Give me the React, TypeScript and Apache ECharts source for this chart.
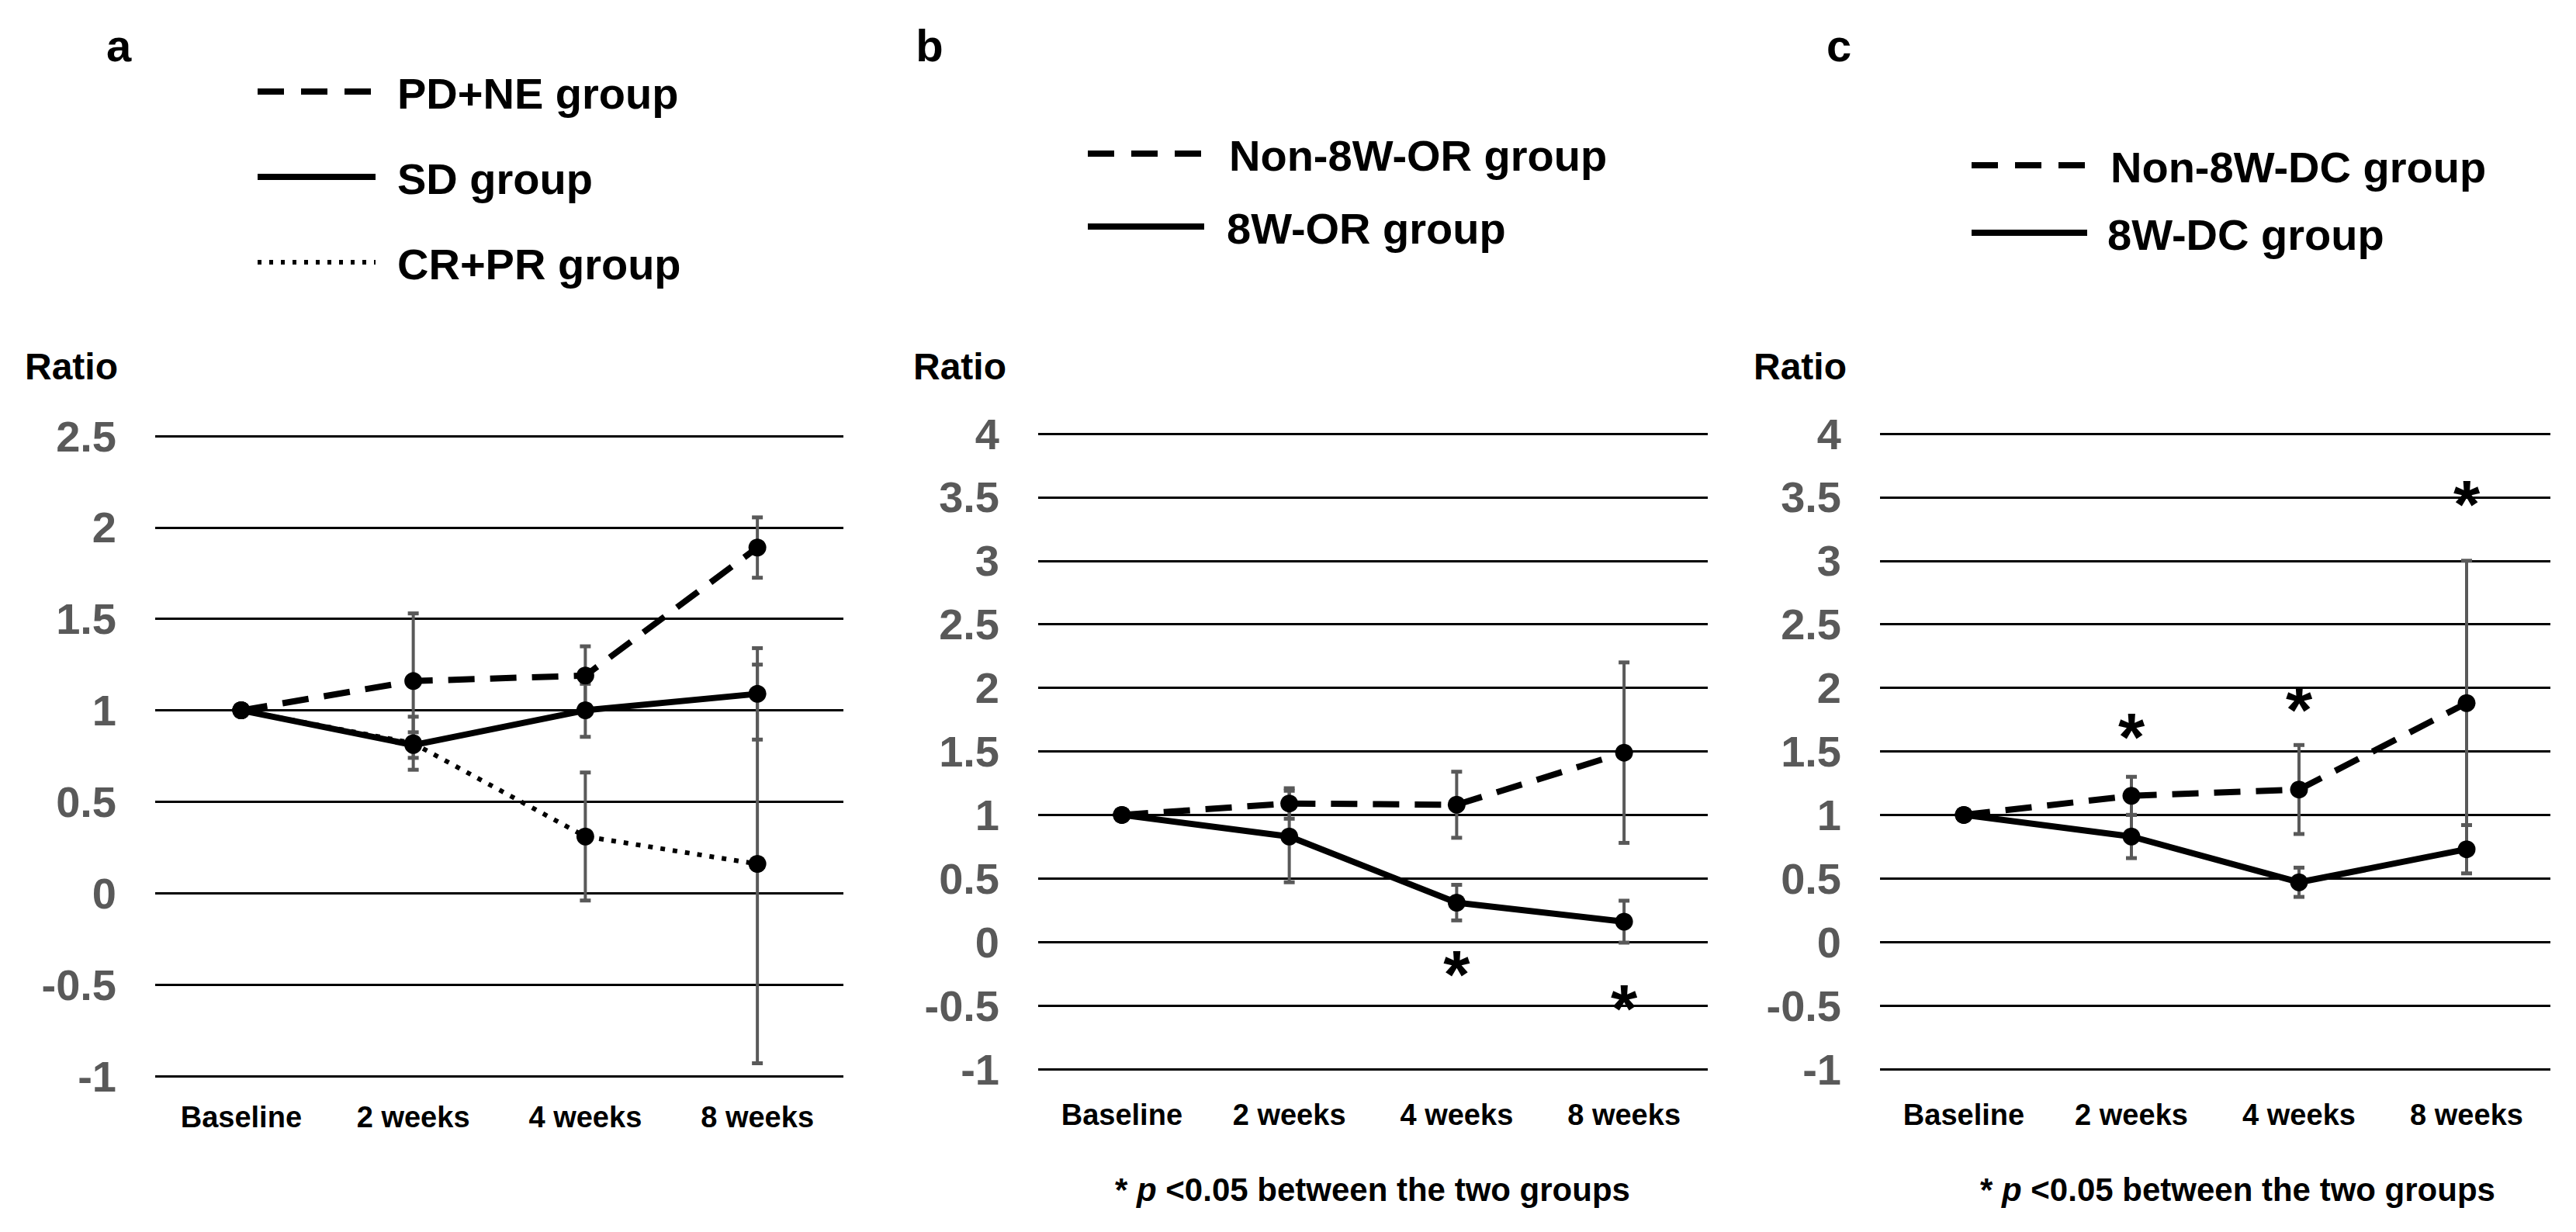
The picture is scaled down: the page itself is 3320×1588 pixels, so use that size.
import React, { useEffect, useRef } from "react";
import * as echarts from "echarts";

// ---------- data ----------
const categories = ["Baseline", "2 weeks", "4 weeks", "8 weeks"];

// y-axis ticks (min, max, step)
const yTicksA = [-1, 2.5, 0.5];
const yTicksBC = [-1, 4, 0.5];

// Panel a
const aPdNe = [1, 1.16, 1.19, 1.89];
const aPdNeErr = [0, 0.37, 0.16, 0.165];
const aSd = [1, 0.81, 1.0, 1.09];
const aSdErr = [0, 0.07, 0.145, 0.25];
const aCrPr = [1, 0.82, 0.31, 0.16];
const aCrPrErr = [0, 0.145, 0.35, 1.09];

// Panel b
const bNonOr = [1, 1.09, 1.08, 1.49];
const bNonOrErr = [0, 0.12, 0.26, 0.71];
const bOr = [1, 0.83, 0.31, 0.16];
const bOrErr = [0, 0.36, 0.14, 0.165];
const bStars: (number | null)[] = [null, null, -0.13, -0.4];

// Panel c
const cNonDc = [1, 1.15, 1.2, 1.88];
const cNonDcErr = [0, 0.15, 0.35, 1.12];
const cDc = [1, 0.83, 0.47, 0.73];
const cDcErr = [0, 0.17, 0.115, 0.19];
const cStars: (number | null)[] = [null, 1.74, 1.95, 3.57];

const panelLetters = ["a", "b", "c"];
const legendA = ["PD+NE group", "SD group", "CR+PR group"];
const legendB = ["Non-8W-OR group", "8W-OR group"];
const legendC = ["Non-8W-DC group", "8W-DC group"];
const yName = "Ratio";
const footnote = "{s|*} {i|p} <0.05 between the two groups";

// ---------- styles ----------
const FONT = "Arial, 'Liberation Sans', Helvetica, sans-serif";
const DASH = [34, 20];
const DOT = [6, 10];
const LEG_DASH = [34, 22];
const LEG_DOT = [5, 10];

const grids = [
  { left: 200, top: 562, width: 887, height: 825 },
  { left: 1338, top: 559, width: 863, height: 819 },
  { left: 2423, top: 559, width: 864, height: 819 },
];

function lineSeries(idx: number, name: string, data: number[], dash: any, width: number) {
  return {
    type: "line",
    name,
    xAxisIndex: idx,
    yAxisIndex: idx,
    data,
    z: 3,
    symbol: "circle",
    symbolSize: 23,
    showAllSymbol: true,
    itemStyle: { color: "#000" },
    lineStyle: { color: "#000", width, type: dash },
    silent: true,
  };
}

function errorSeries(idx: number, means: number[], errs: number[]) {
  const data = means
    .map((m, i) => [i, m - errs[i], m + errs[i]])
    .filter((_, i) => errs[i] > 0);
  return {
    type: "custom",
    xAxisIndex: idx,
    yAxisIndex: idx,
    z: 2,
    silent: true,
    data,
    encode: { x: 0, y: [1, 2] },
    renderItem: (_p: any, api: any) => {
      const x = api.value(0);
      const lo = api.coord([x, api.value(1)]);
      const hi = api.coord([x, api.value(2)]);
      const w = 7;
      const style = { stroke: "#595959", lineWidth: 4 };
      return {
        type: "group",
        children: [
          { type: "line", shape: { x1: lo[0], y1: lo[1], x2: hi[0], y2: hi[1] }, style },
          { type: "line", shape: { x1: lo[0] - w, y1: lo[1], x2: lo[0] + w, y2: lo[1] }, style: { ...style, lineWidth: 5 } },
          { type: "line", shape: { x1: hi[0] - w, y1: hi[1], x2: hi[0] + w, y2: hi[1] }, style: { ...style, lineWidth: 5 } },
        ],
      };
    },
  };
}

function starSeries(idx: number, stars: (number | null)[]) {
  const data = stars
    .map((v, i) => (v == null ? null : [i, v]))
    .filter((d) => d != null);
  return {
    type: "custom",
    xAxisIndex: idx,
    yAxisIndex: idx,
    z: 4,
    silent: true,
    data,
    encode: { x: 0, y: 1 },
    renderItem: (_p: any, api: any) => {
      const pt = api.coord([api.value(0), api.value(1)]);
      return {
        type: "text",
        x: pt[0],
        y: pt[1] + 20,
        style: {
          text: "*",
          fill: "#000",
          fontSize: 88,
          fontWeight: "bold",
          fontFamily: FONT,
          align: "center",
          verticalAlign: "middle",
        },
      };
    },
  };
}

function txt(x: number, y: number, text: string, size: number, align = "left", extra: any = {}) {
  return {
    type: "text",
    x,
    y,
    silent: true,
    style: {
      text,
      fill: "#000",
      fontSize: size,
      fontWeight: "bold",
      fontFamily: FONT,
      align,
      textAlign: align,
      verticalAlign: "middle",
      textVerticalAlign: "middle",
      ...extra,
    },
  };
}

function legLine(x1: number, x2: number, y: number, dash: any, w = 8) {
  return {
    type: "line",
    silent: true,
    shape: { x1, y1: y, x2, y2: y },
    style: { stroke: "#000", lineWidth: w, lineDash: dash },
  };
}

function footText(x: number, y: number) {
  const base = { fontSize: 42, fontWeight: "bold", fontFamily: FONT, fill: "#000" };
  return {
    type: "text",
    x,
    y,
    silent: true,
    style: {
      text: footnote,
      ...base,
      align: "left",
      textAlign: "left",
      verticalAlign: "middle",
      textVerticalAlign: "middle",
      rich: {
        s: { ...base },
        i: { ...base, fontStyle: "italic" },
      },
    },
  };
}

export default function App() {
  const ref = useRef<HTMLDivElement>(null);

  useEffect(() => {
    if (!ref.current) return;
    const chart = echarts.init(ref.current, undefined, { renderer: "svg" });

    const yAxisFor = (i: number, t: number[]) => ({
      type: "value",
      gridIndex: i,
      min: t[0],
      max: t[1],
      interval: t[2],
      axisLine: { show: false },
      axisTick: { show: false },
      axisLabel: {
        color: "#595959",
        fontSize: 56,
        fontWeight: "bold",
        fontFamily: FONT,
        margin: 50,
      },
      splitLine: { show: true, lineStyle: { color: "#000", width: 3 } },
    });

    const xAxisFor = (i: number, margin: number) => ({
      type: "category",
      gridIndex: i,
      data: categories,
      boundaryGap: true,
      axisLine: { show: false },
      axisTick: { show: false },
      axisLabel: {
        color: "#000",
        fontSize: 38,
        fontWeight: "bold",
        fontFamily: FONT,
        margin,
        interval: 0,
      },
      splitLine: { show: false },
    });

    const option: any = {
      animation: false,
      backgroundColor: "#fff",
      grid: grids,
      xAxis: [xAxisFor(0, 34), xAxisFor(1, 40), xAxisFor(2, 40)],
      yAxis: [yAxisFor(0, yTicksA), yAxisFor(1, yTicksBC), yAxisFor(2, yTicksBC)],
      series: [
        // panel a
        errorSeries(0, aPdNe, aPdNeErr),
        errorSeries(0, aSd, aSdErr),
        errorSeries(0, aCrPr, aCrPrErr),
        lineSeries(0, legendA[2], aCrPr, DOT, 6),
        lineSeries(0, legendA[0], aPdNe, DASH, 8),
        lineSeries(0, legendA[1], aSd, "solid", 8),
        // panel b
        errorSeries(1, bNonOr, bNonOrErr),
        errorSeries(1, bOr, bOrErr),
        lineSeries(1, legendB[0], bNonOr, DASH, 8),
        lineSeries(1, legendB[1], bOr, "solid", 8),
        starSeries(1, bStars),
        // panel c
        errorSeries(2, cNonDc, cNonDcErr),
        errorSeries(2, cDc, cDcErr),
        lineSeries(2, legendC[0], cNonDc, DASH, 8),
        lineSeries(2, legendC[1], cDc, "solid", 8),
        starSeries(2, cStars),
      ],
      graphic: {
        elements: [
          // panel letters
          txt(153, 58, panelLetters[0], 58, "center"),
          txt(1198, 58, panelLetters[1], 58, "center"),
          txt(2370, 58, panelLetters[2], 58, "center"),
          // y names
          txt(152, 472, yName, 48, "right"),
          txt(1297, 472, yName, 48, "right"),
          txt(2380, 472, yName, 48, "right"),
          // legend a
          legLine(332, 484, 118, LEG_DASH),
          txt(512, 120, legendA[0], 56),
          legLine(332, 484, 228, null),
          txt(512, 230, legendA[1], 56),
          legLine(332, 484, 338, LEG_DOT, 6),
          txt(512, 340, legendA[2], 56),
          // legend b
          legLine(1402, 1552, 198, LEG_DASH),
          txt(1584, 200, legendB[0], 56),
          legLine(1402, 1552, 292, null),
          txt(1581, 294, legendB[1], 56),
          // legend c
          legLine(2541, 2690, 213, LEG_DASH),
          txt(2720, 215, legendC[0], 56),
          legLine(2541, 2690, 300, null),
          txt(2716, 302, legendC[1], 56),
          // footnotes
          footText(1437, 1533),
          footText(2552, 1533),
        ],
      },
    };

    chart.setOption(option);
    return () => chart.dispose();
  }, []);

  return (
    <div
      ref={ref}
      style={{ position: "absolute", left: 0, top: 0, width: 3320, height: 1588, background: "#fff" }}
    />
  );
}
